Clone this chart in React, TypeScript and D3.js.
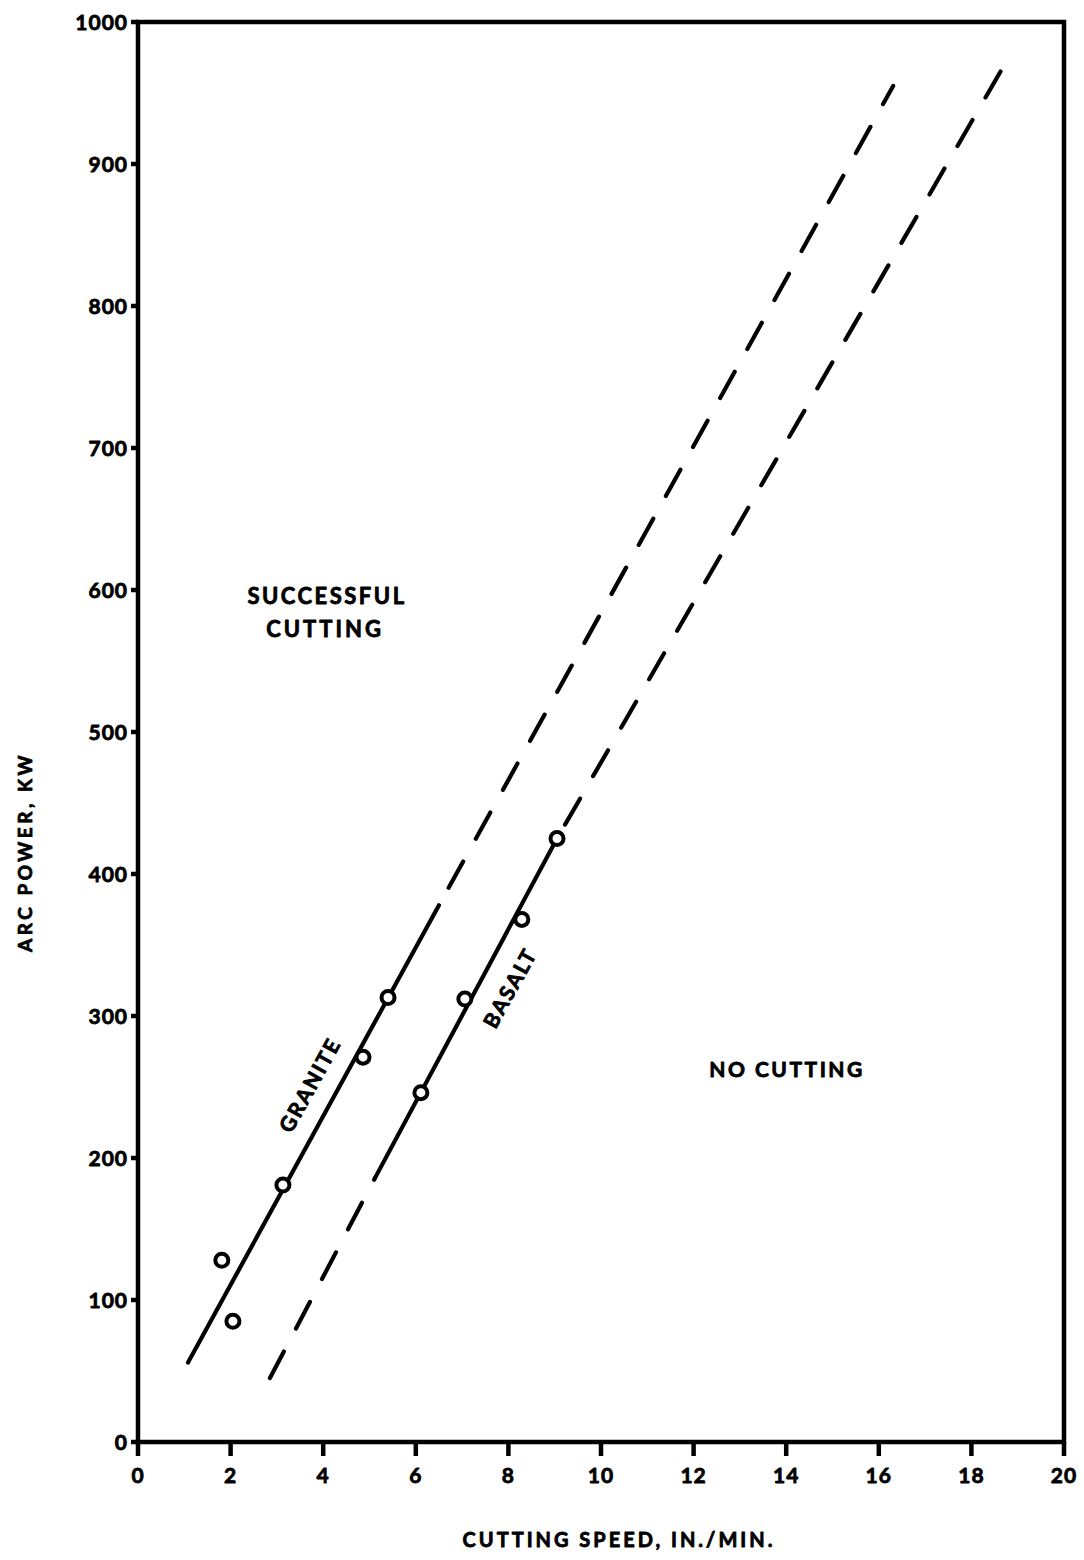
import React from "react";
import * as d3 from "d3";

// Axis ticks
const speedTicks = [0, 2, 4, 6, 8, 10, 12, 14, 16, 18, 20];
const powerTicks = [0, 100, 200, 300, 400, 500, 600, 700, 800, 900, 1000];

// Measured points (cutting speed in./min, arc power kW)
const graniteSpeed = [1.81, 2.05, 3.13, 4.86, 5.4];
const granitePower = [128, 85, 181, 271, 313];
const basaltSpeed = [6.11, 7.06, 8.29, 9.05];
const basaltPower = [246, 312, 368, 425];

// Boundary lines: solid where fitted to data, dashed where extrapolated
const graniteSolid: [number, number][] = [[1.08, 56], [6.5, 378]];
const graniteDashed: [number, number][] = [[6.5, 378], [16.31, 955]];
const basaltDashedLow: [number, number][] = [[2.85, 45], [5.12, 186]];
const basaltSolid: [number, number][] = [[5.12, 186], [9.05, 425]];
const basaltDashedHigh: [number, number][] = [[9.05, 425], [18.68, 968]];

const W = 1084;
const H = 1560;
const left = 138;
const right = 1064;
const top = 22;
const bottom = 1442;

const FONT = "Lato, 'Open Sans', sans-serif";

export default function App() {
  const x = d3.scaleLinear().domain([0, 20]).range([left, right]);
  const y = d3.scaleLinear().domain([0, 1000]).range([bottom, top]);
  const line = d3
    .line<[number, number]>()
    .x((d) => x(d[0]))
    .y((d) => y(d[1]));

  const dash = "30 26";
  const lw = 4.2;

  // heavier lettering: a thin outline around the bold glyphs
  const heavy = { stroke: "#000", strokeWidth: 0.8, strokeLinejoin: "round" as const };

  return (
    <svg
      width={W}
      height={H}
      style={{ position: "absolute", left: 0, top: 0, background: "#fff" }}
      fontFamily={FONT}
      fontWeight={700}
    >
      <rect width={W} height={H} fill="#fff" />

      {/* frame */}
      <path
        d={`M${left},${bottom} L${left},${top} L${right},${top} L${right},${bottom} Z`}
        fill="none"
        stroke="#000"
        strokeWidth={4.5}
      />

      {/* y ticks */}
      {powerTicks.map((t) => (
        <g key={`y${t}`}>
          <line x1={left - 7} x2={left} y1={y(t)} y2={y(t)} stroke="#000" strokeWidth={4.5} />
          <text
            x={left - 10}
            y={y(t)}
            dy="0.36em"
            textAnchor="end"
            fontSize={21}
            letterSpacing={1}
            {...heavy}
          >
            {t}
          </text>
        </g>
      ))}

      {/* x ticks */}
      {speedTicks.map((t) => (
        <g key={`x${t}`}>
          <line x1={x(t)} x2={x(t)} y1={bottom} y2={bottom + 14} stroke="#000" strokeWidth={4.5} />
          <text x={x(t)} y={bottom + 41} textAnchor="middle" fontSize={21} letterSpacing={1} {...heavy}>
            {t}
          </text>
        </g>
      ))}

      {/* axis titles */}
      <text x={619} y={1547} textAnchor="middle" fontSize={20} letterSpacing={3} {...heavy}>
        CUTTING SPEED, IN./MIN.
      </text>
      <text
        transform={`translate(32,852) rotate(-90)`}
        textAnchor="middle"
        fontSize={19}
        letterSpacing={3.5}
        {...heavy}
      >
        ARC POWER, KW
      </text>

      {/* boundary lines */}
      <path d={line(graniteSolid) ?? ""} fill="none" stroke="#000" strokeWidth={lw} strokeLinecap="round" />
      <path
        d={line(graniteDashed) ?? ""}
        fill="none"
        stroke="#000"
        strokeWidth={lw}
        strokeDasharray={dash}
        strokeDashoffset={36}
        strokeLinecap="round"
      />
      <path
        d={line(basaltDashedLow) ?? ""}
        fill="none"
        stroke="#000"
        strokeWidth={lw}
        strokeDasharray={dash}
        strokeLinecap="round"
      />
      <path d={line(basaltSolid) ?? ""} fill="none" stroke="#000" strokeWidth={lw} strokeLinecap="round" />
      <path
        d={line(basaltDashedHigh) ?? ""}
        fill="none"
        stroke="#000"
        strokeWidth={lw}
        strokeDasharray={dash}
        strokeDashoffset={40}
        strokeLinecap="round"
      />

      {/* data points */}
      {graniteSpeed.map((s, i) => (
        <circle key={`g${i}`} cx={x(s)} cy={y(granitePower[i])} r={6.5} fill="#fff" stroke="#000" strokeWidth={4} />
      ))}
      {basaltSpeed.map((s, i) => (
        <circle key={`b${i}`} cx={x(s)} cy={y(basaltPower[i])} r={6.5} fill="#fff" stroke="#000" strokeWidth={4} />
      ))}

      {/* line labels */}
      <text
        transform={`translate(310,1085) rotate(-61)`}
        textAnchor="middle"
        dy="0.36em"
        fontSize={21}
        letterSpacing={2}
        {...heavy}
      >
        GRANITE
      </text>
      <text
        transform={`translate(510,988) rotate(-61)`}
        textAnchor="middle"
        dy="0.36em"
        fontSize={21}
        letterSpacing={2}
        {...heavy}
      >
        BASALT
      </text>

      {/* region labels */}
      <text x={327} y={604} textAnchor="middle" fontSize={22} letterSpacing={2.5} {...heavy}>
        SUCCESSFUL
      </text>
      <text x={325} y={637} textAnchor="middle" fontSize={22} letterSpacing={3} {...heavy}>
        CUTTING
      </text>
      <text x={787} y={1077} textAnchor="middle" fontSize={21} letterSpacing={2.5} {...heavy}>
        NO CUTTING
      </text>
    </svg>
  );
}
